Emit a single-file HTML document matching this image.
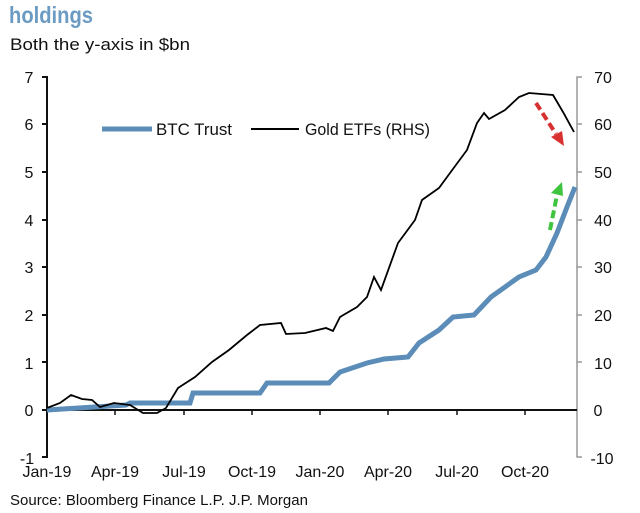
<!DOCTYPE html><html><head><style>body{margin:0;background:#fff;width:640px;height:508px;overflow:hidden;font-family:"Liberation Sans",sans-serif}</style></head><body>
<svg width="640" height="508" xmlns="http://www.w3.org/2000/svg" font-family="Liberation Sans Narrow, Liberation Sans, sans-serif">
<text x="9" y="23" font-size="23" font-weight="bold" fill="#6b9bc3" textLength="84" lengthAdjust="spacingAndGlyphs">holdings</text>
<text x="10" y="50" font-size="17" fill="#111" textLength="180" lengthAdjust="spacingAndGlyphs">Both the y-axis in $bn</text>
<g font-size="16" fill="#111" text-anchor="middle">
<text x="29" y="83">7</text><text x="29" y="130">6</text><text x="29" y="178">5</text><text x="29" y="226">4</text><text x="29" y="273">3</text><text x="29" y="321">2</text><text x="29" y="369">1</text><text x="29" y="416">0</text><text x="27" y="464">-1</text></g>
<g font-size="16" fill="#111" text-anchor="middle"><text x="603" y="83">70</text><text x="603" y="130">60</text><text x="603" y="178">50</text><text x="603" y="226">40</text><text x="603" y="273">30</text><text x="603" y="321">20</text><text x="603" y="369">10</text><text x="598" y="416">0</text><text x="602" y="464">-10</text></g>
<path d="M42 77H47V457H42M42 124H47M42 172H47M42 220H47M42 267H47M42 315H47M42 362H47M42 410H47" stroke="#111" stroke-width="2" fill="none"/>
<path d="M582 77H577V457H582M577 124H582M577 172H582M577 220H582M577 267H582M577 315H582M577 362H582" stroke="#999" stroke-width="1.5" fill="none"/>
<line x1="47" y1="410" x2="577" y2="410" stroke="#111" stroke-width="2"/>
<path d="M115 410v5M184 410v5M252 410v5M320 410v5M388 410v5M457 410v5M525 410v5" stroke="#111" stroke-width="1.5"/>
<g font-size="16" fill="#111" text-anchor="middle"><text x="47" y="477">Jan-19</text><text x="115" y="477">Apr-19</text><text x="184" y="477">Jul-19</text><text x="252" y="477">Oct-19</text><text x="320" y="477">Jan-20</text><text x="388" y="477">Apr-20</text><text x="457" y="477">Jul-20</text><text x="525" y="477">Oct-20</text></g>
<text x="10" y="505" font-size="15" fill="#111">Source: Bloomberg Finance L.P. J.P. Morgan</text>
<polyline fill="none" stroke="#5b8db8" stroke-width="5" points="47,410 126,405 130,403 190,403 193,393 260,393 267,383 329,383 340,372 367,363 384,359 408,357 419,343 439,330 453,317 474,315 491,297 519,277 536,270 546,257 557,233 567,207 575,187"/>
<polyline fill="none" stroke="#000" stroke-width="1.8" points="47,408 60,403 71,395 82,399 92,400 100,407 114,403 130,405 143,413 157,413 166,408 178,388 195,377 212,362 229,350 247,335 260,325 281,323 286,334 305,333 326,328 333,331 340,317 357,307 367,297 374,277 381,290 398,243 415,220 422,200 439,188 450,173 467,150 477,123 484,113 489,119 505,110 519,97 529,93 553,95 563,112 574,132"/>
<line x1="102" y1="129" x2="152" y2="129" stroke="#5b8db8" stroke-width="5"/>
<text x="156" y="135" font-size="17" fill="#111" textLength="76" lengthAdjust="spacingAndGlyphs">BTC Trust</text>
<line x1="251" y1="129" x2="299" y2="129" stroke="#000" stroke-width="2"/>
<text x="305" y="135" font-size="17" fill="#111" textLength="125" lengthAdjust="spacingAndGlyphs">Gold ETFs (RHS)</text>
<line x1="536" y1="103" x2="556" y2="134" stroke="#d83030" stroke-width="4" stroke-dasharray="8,4"/>
<polygon points="551,137 564,146 562,131" fill="#d83030"/>
<line x1="550" y1="230" x2="557" y2="195" stroke="#3ec43e" stroke-width="4" stroke-dasharray="8,4"/>
<polygon points="551,193 562,182 563,196" fill="#3ec43e"/>
</svg></body></html>
